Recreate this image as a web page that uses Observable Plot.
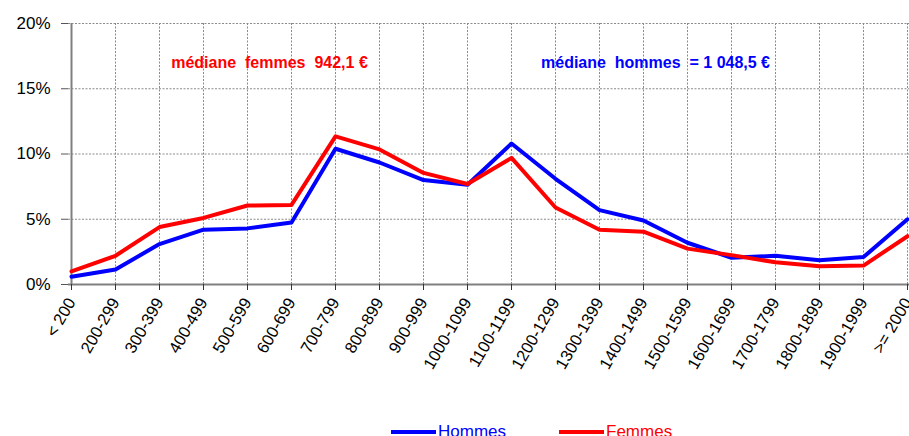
<!DOCTYPE html>
<html>
<head>
<meta charset="utf-8">
<script src="https://cdn.jsdelivr.net/npm/d3@7"></script>
<script src="https://cdn.jsdelivr.net/npm/@observablehq/plot@0.6"></script>
<style>
  html, body { margin: 0; padding: 0; background: white; }
  #wrap { position: relative; width: 909px; height: 436px; overflow: hidden; font-family: "Liberation Sans", Arial, sans-serif; }
  #legend { position: absolute; left: 391px; top: 423px; display: flex; align-items: center; font-size: 17px; line-height: 18px; }
  .item { display: flex; align-items: center; }
  .sw { width: 45px; height: 4px; margin-right: 2px; }
</style>
</head>
<body>
<div id="wrap">
  <div id="chart"></div>
  <div id="legend">
    <div class="item" style="color:#0000ff"><div class="sw" style="background:#0000ff"></div>Hommes</div>
    <div class="item" style="color:#ff0000;margin-left:53px"><div class="sw" style="background:#ff0000"></div>Femmes</div>
  </div>
</div>
<script>
const categories = ["< 200","200-299","300-399","400-499","500-599","600-699","700-799","800-899","900-999","1000-1099","1100-1199","1200-1299","1300-1399","1400-1499","1500-1599","1600-1699","1700-1799","1800-1899","1900-1999",">= 2000"];
const hommes = [0.6, 1.15, 3.1, 4.2, 4.3, 4.75, 10.4, 9.35, 8.0, 7.65, 10.8, 8.1, 5.7, 4.9, 3.2, 2.05, 2.2, 1.85, 2.1, 5.0];
const femmes = [1.0, 2.2, 4.4, 5.1, 6.05, 6.1, 11.35, 10.35, 8.55, 7.7, 9.7, 5.9, 4.2, 4.05, 2.75, 2.25, 1.7, 1.4, 1.45, 3.7];
const yTicks = [0, 5, 10, 15, 20];
const noteFemmes = "médiane\u00a0 femmes\u00a0 942,1 €";
const noteHommes = "médiane\u00a0 hommes\u00a0 = 1 048,5 €";

const hData = categories.map((c, i) => ({cat: c, v: hommes[i]}));
const fData = categories.map((c, i) => ({cat: c, v: femmes[i]}));
const grid = "#8a8a8a";

const chart = Plot.plot({
  width: 909,
  height: 420,
  marginLeft: 68,
  marginRight: 0,
  marginTop: 23,
  marginBottom: 136,
  style: {fontFamily: "'Liberation Sans', Arial, sans-serif", background: "white", color: "black", overflow: "visible"},
  x: {type: "point", domain: categories, padding: 0, label: null},
  y: {domain: [0, 20], label: null},
  marks: [
    Plot.ruleY(yTicks.slice(1), {stroke: grid, strokeDasharray: "2,1.5", strokeWidth: 1}),
    Plot.ruleX(categories, {x: d => d, y1: 0, y2: 20, stroke: grid, strokeDasharray: "2,1.5", strokeWidth: 1}),
    Plot.ruleY([0], {stroke: "#808080", strokeWidth: 2}),
    Plot.ruleX([categories[0]], {x: d => d, y1: 0, y2: 20, stroke: "#808080", strokeWidth: 2}),
    Plot.lineY(hData, {x: "cat", y: "v", stroke: "#0000ff", strokeWidth: 4}),
    Plot.lineY(fData, {x: "cat", y: "v", stroke: "#ff0000", strokeWidth: 4}),
    Plot.text([noteFemmes], {x: () => "500-599", y: () => 17.0, text: d => d, fill: "#ff0000", dx: 22, fontWeight: "bold", fontSize: 16}),
    Plot.text([noteHommes], {x: () => "1400-1499", y: () => 17.0, text: d => d, fill: "#0000ff", dx: 12, fontWeight: "bold", fontSize: 16}),
    Plot.axisY({ticks: yTicks, tickFormat: d => d + "%", tickSize: 7, tickPadding: 11, fontSize: 17, stroke: "#555", fill: "black", label: null}),
    Plot.axisX({tickRotate: -60, tickSize: 6, tickPadding: 9, fontSize: 16.5, stroke: "#333", fill: "black", label: null})
  ]
});
document.getElementById("chart").appendChild(chart);
</script>
</body>
</html>
